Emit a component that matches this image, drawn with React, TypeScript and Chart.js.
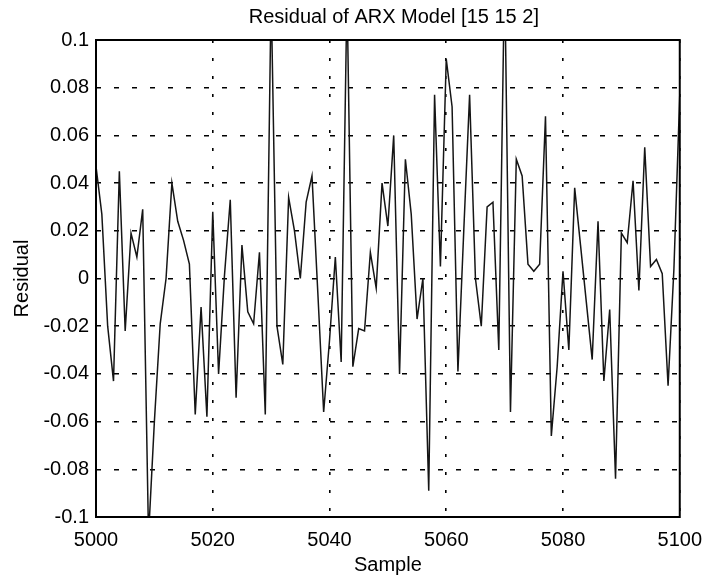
import React, { useEffect, useRef } from "react";
import { Chart, registerables } from "chart.js";

Chart.register(...registerables);

const FONT = "'Liberation Sans', Arial, Helvetica, sans-serif";

const firstSample = 5000;
// Residual values for samples 5000..5100 (values beyond ±0.1 are clipped by the axes)
const residual = [
  0.047, 0.027, -0.02, -0.043, 0.045, -0.022, 0.019, 0.009, 0.029, -0.108,
  -0.06, -0.019, 0.0, 0.04, 0.024, 0.016, 0.006, -0.057, -0.012, -0.058,
  0.028, -0.04, 0.001, 0.033, -0.05, 0.014, -0.014, -0.019, 0.011, -0.057,
  0.12, -0.02, -0.036, 0.034, 0.02, 0.0, 0.032, 0.043, -0.006, -0.056,
  -0.026, 0.009, -0.035, 0.12, -0.037, -0.021, -0.022, 0.011, -0.004, 0.04,
  0.022, 0.06, -0.04, 0.05, 0.027, -0.017, 0.0, -0.089, 0.077, 0.005,
  0.092, 0.072, -0.039, 0.02, 0.077, 0.0, -0.02, 0.03, 0.032, -0.03,
  0.13, -0.056, 0.05, 0.043, 0.006, 0.003, 0.006, 0.068, -0.066, -0.037,
  0.003, -0.03, 0.038, 0.014, -0.01, -0.034, 0.024, -0.043, -0.013, -0.084,
  0.019, 0.015, 0.041, -0.005, 0.055, 0.005, 0.008, 0.002, -0.045, 0.004,
  0.077,
];

const xTickValues = [5000, 5020, 5040, 5060, 5080, 5100];
const yTickValues = [-0.1, -0.08, -0.06, -0.04, -0.02, 0, 0.02, 0.04, 0.06, 0.08, 0.1];
const yTickLabels = ["-0.1", "-0.08", "-0.06", "-0.04", "-0.02", "0", "0.02", "0.04", "0.06", "0.08", "0.1"];

const titleText = "Residual of ARX Model [15 15 2]";
const xLabel = "Sample";
const yLabel = "Residual";

const matlabFrame = {
  id: "matlabFrame",
  afterDraw(chart: any) {
    const { ctx, chartArea: a } = chart;
    ctx.save();
    ctx.setLineDash([]);
    ctx.strokeStyle = "#000";
    ctx.lineWidth = 2;
    ctx.strokeRect(a.left, a.top, a.right - a.left, a.bottom - a.top);
    ctx.fillStyle = "#000";
    ctx.font = `20px ${FONT}`;
    ctx.textAlign = "center";
    ctx.textBaseline = "middle";
    const cx = (a.left + a.right) / 2;
    ctx.fillText(titleText, cx + 6, 17);
    ctx.fillText(xLabel, cx, 565);
    ctx.translate(22, (a.top + a.bottom) / 2);
    ctx.rotate(-Math.PI / 2);
    ctx.fillText(yLabel, 0, 0);
    ctx.restore();
  },
};

export default function App() {
  const canvasRef = useRef<HTMLCanvasElement | null>(null);

  useEffect(() => {
    document.body.style.margin = "0";
    const canvas = canvasRef.current;
    if (!canvas) return;
    const points = residual.map((y, i) => ({ x: firstSample + i, y }));
    const chart = new Chart(canvas, {
      type: "line",
      data: {
        datasets: [
          {
            data: points,
            borderColor: "#151515",
            borderWidth: 1.5,
            pointRadius: 0,
            tension: 0,
            fill: false,
          },
        ],
      },
      options: {
        responsive: false,
        animation: false,
        devicePixelRatio: 1,
        layout: { padding: { top: 40, right: 25, left: 0, bottom: 0 } },
        plugins: {
          legend: { display: false },
          title: { display: false },
          tooltip: { enabled: false },
        },
        scales: {
          x: {
            type: "linear",
            min: 5000,
            max: 5100,
            afterBuildTicks: (s: any) => {
              s.ticks = xTickValues.map((v) => ({ value: v }));
            },
            afterFit: (s: any) => {
              s.height = 61;
            },
            grid: { color: "#000", lineWidth: 1.6, drawTicks: false },
            border: { display: false, dash: [3, 15] },
            ticks: {
              color: "#000",
              font: { family: FONT, size: 20 },
              padding: 11,
              maxRotation: 0,
              autoSkip: false,
              callback: (v: any) => String(v),
            },
          },
          y: {
            type: "linear",
            min: -0.1,
            max: 0.1,
            afterBuildTicks: (s: any) => {
              s.ticks = yTickValues.map((v) => ({ value: v }));
            },
            afterFit: (s: any) => {
              s.width = 96;
            },
            grid: { color: "#000", lineWidth: 1.6, drawTicks: false },
            border: { display: false, dash: [5, 13] },
            ticks: {
              color: "#000",
              font: { family: FONT, size: 20 },
              padding: 7,
              autoSkip: false,
              callback: (_v: any, i: number) => yTickLabels[i],
            },
          },
        },
      },
      plugins: [matlabFrame],
    });
    return () => chart.destroy();
  }, []);

  return (
    <div style={{ position: "absolute", left: 0, top: 0, width: 713, height: 578, background: "#fff" }}>
      <canvas ref={canvasRef} width={713} height={578} />
    </div>
  );
}
